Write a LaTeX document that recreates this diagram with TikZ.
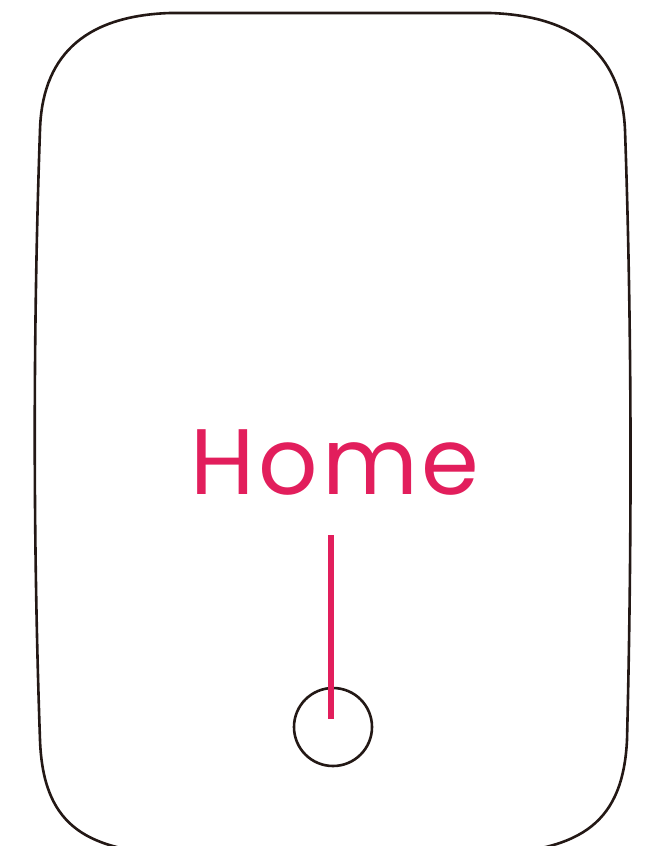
\documentclass[tikz,border=0pt]{standalone}
\usepackage{fontspec}
\setmainfont{Poppins}
\definecolor{homepink}{RGB}{226,30,92}
\definecolor{casing}{RGB}{35,24,21}

\begin{document}
\begin{tikzpicture}[x=1pt,y=-1pt,
  body/.style={draw=casing,line width=2.6pt},
  lead/.style={homepink,line width=6pt}]
  \useasboundingbox (0,0) rectangle (662,846);
  % casing outline, runs off the bottom edge
  \draw[body] (170,13) -- (490,13)
    .. controls (582,16) and (622,60) .. (625,130)
    .. controls (632,330) and (632,540) .. (627,740)
    .. controls (623,822) and (582,850) .. (490,854)
    -- (170,854)
    .. controls (82,850) and (43,822) .. (40,740)
    .. controls (33,540) and (33,330) .. (40,130)
    .. controls (42,60) and (80,16) .. cycle;
  \node[anchor=base,inner sep=0pt,text=homepink,font=\fontsize{93}{93}\selectfont\addfontfeature{LetterSpace=4}] (home) at (335,494) {Home};
  \node[body,circle,minimum size=78pt,inner sep=0pt] (button) at (333,727) {};
  \coordinate (leadtop) at (331,535);
  \draw[lead] (leadtop) -- (leadtop |- 719,719);
\end{tikzpicture}
\end{document}
